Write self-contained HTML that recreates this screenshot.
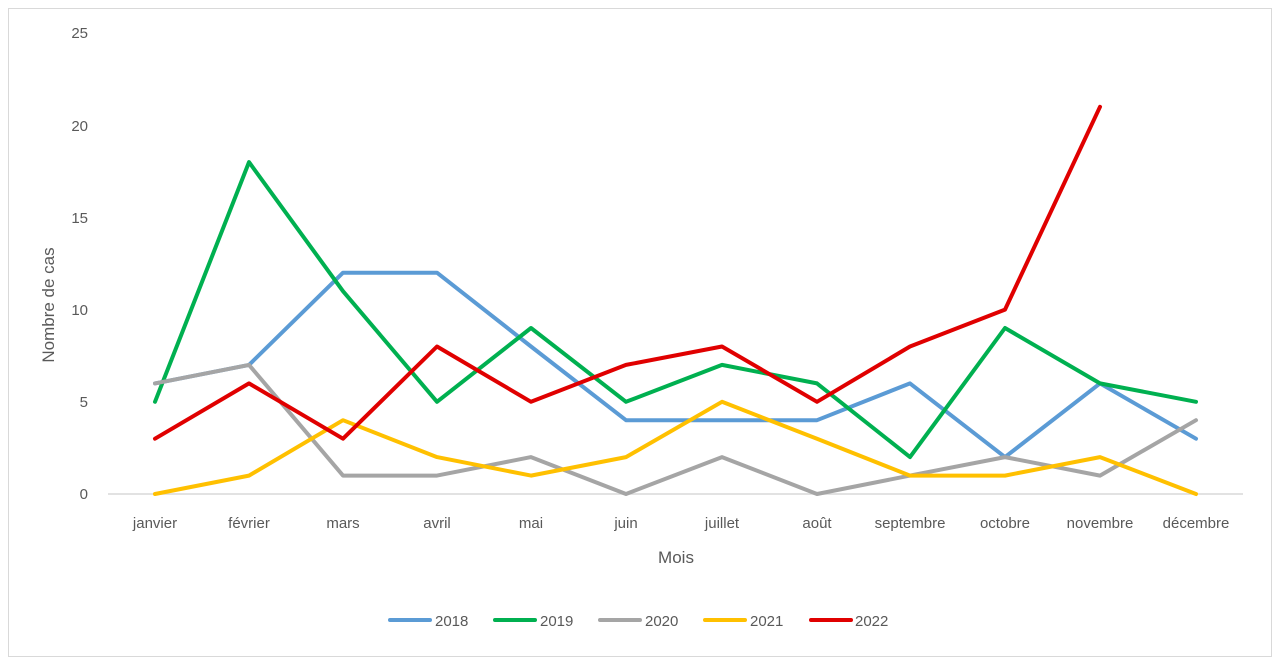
<!DOCTYPE html>
<html><head><meta charset="utf-8"><style>
html,body{margin:0;padding:0;background:#fff;}
svg text{font-family:"Liberation Sans",sans-serif;fill:#595959;}
</style></head><body>
<svg width="1280" height="667" viewBox="0 0 1280 667" xmlns="http://www.w3.org/2000/svg">
<rect x="0" y="0" width="1280" height="667" fill="#fff"/>
<rect x="8.5" y="8.5" width="1263" height="648" fill="none" stroke="#d9d9d9" stroke-width="1"/>
<line x1="108" y1="494" x2="1243" y2="494" stroke="#d9d9d9" stroke-width="1.5"/>
<g font-size="15" text-anchor="end">
<text x="88" y="499">0</text><text x="88" y="407">5</text><text x="88" y="315">10</text>
<text x="88" y="223">15</text><text x="88" y="131">20</text><text x="88" y="38">25</text>
</g>
<g font-size="15" text-anchor="middle">
<text x="155" y="528">janvier</text><text x="249" y="528">février</text><text x="343" y="528">mars</text>
<text x="437" y="528">avril</text><text x="531" y="528">mai</text><text x="626" y="528">juin</text>
<text x="722" y="528">juillet</text><text x="817" y="528">août</text><text x="910" y="528">septembre</text>
<text x="1005" y="528">octobre</text><text x="1100" y="528">novembre</text><text x="1196" y="528">décembre</text>
<text x="676" y="563" font-size="17">Mois</text>
<text transform="translate(54,305) rotate(-90)" font-size="17">Nombre de cas</text>
</g>
<g fill="none" stroke-width="4" stroke-linejoin="round" stroke-linecap="round">
<polyline stroke="#5b9bd5" points="155,383.4 249,364.9 343,272.7 437,272.7 531,346.5 626,420.2 722,420.2 817,420.2 910,383.4 1005,457.1 1100,383.4 1196,438.7"/>
<polyline stroke="#00b050" points="155,401.8 249,162.1 343,291.2 437,401.8 531,328 626,401.8 722,364.9 817,383.4 910,457.1 1005,328 1100,383.4 1196,401.8"/>
<polyline stroke="#a5a5a5" points="155,383.4 249,364.9 343,475.6 437,475.6 531,457.1 626,494 722,457.1 817,494 910,475.6 1005,457.1 1100,475.6 1196,420.2"/>
<polyline stroke="#ffc000" points="155,494 249,475.6 343,420.2 437,457.1 531,475.6 626,457.1 722,401.8 817,438.7 910,475.6 1005,475.6 1100,457.1 1196,494"/>
<polyline stroke="#e00000" points="155,438.7 249,383.4 343,438.7 437,346.5 531,401.8 626,364.9 722,346.5 817,401.8 910,346.5 1005,309.6 1100,106.8"/>
</g>
<g stroke-width="4" stroke-linecap="round">
<line x1="390" y1="620" x2="430" y2="620" stroke="#5b9bd5"/>
<line x1="495" y1="620" x2="535" y2="620" stroke="#00b050"/>
<line x1="600" y1="620" x2="640" y2="620" stroke="#a5a5a5"/>
<line x1="705" y1="620" x2="745" y2="620" stroke="#ffc000"/>
<line x1="811" y1="620" x2="851" y2="620" stroke="#e00000"/>
</g>
<g font-size="15">
<text x="435" y="626">2018</text><text x="540" y="626">2019</text><text x="645" y="626">2020</text>
<text x="750" y="626">2021</text><text x="855" y="626">2022</text>
</g>
</svg>
</body></html>
